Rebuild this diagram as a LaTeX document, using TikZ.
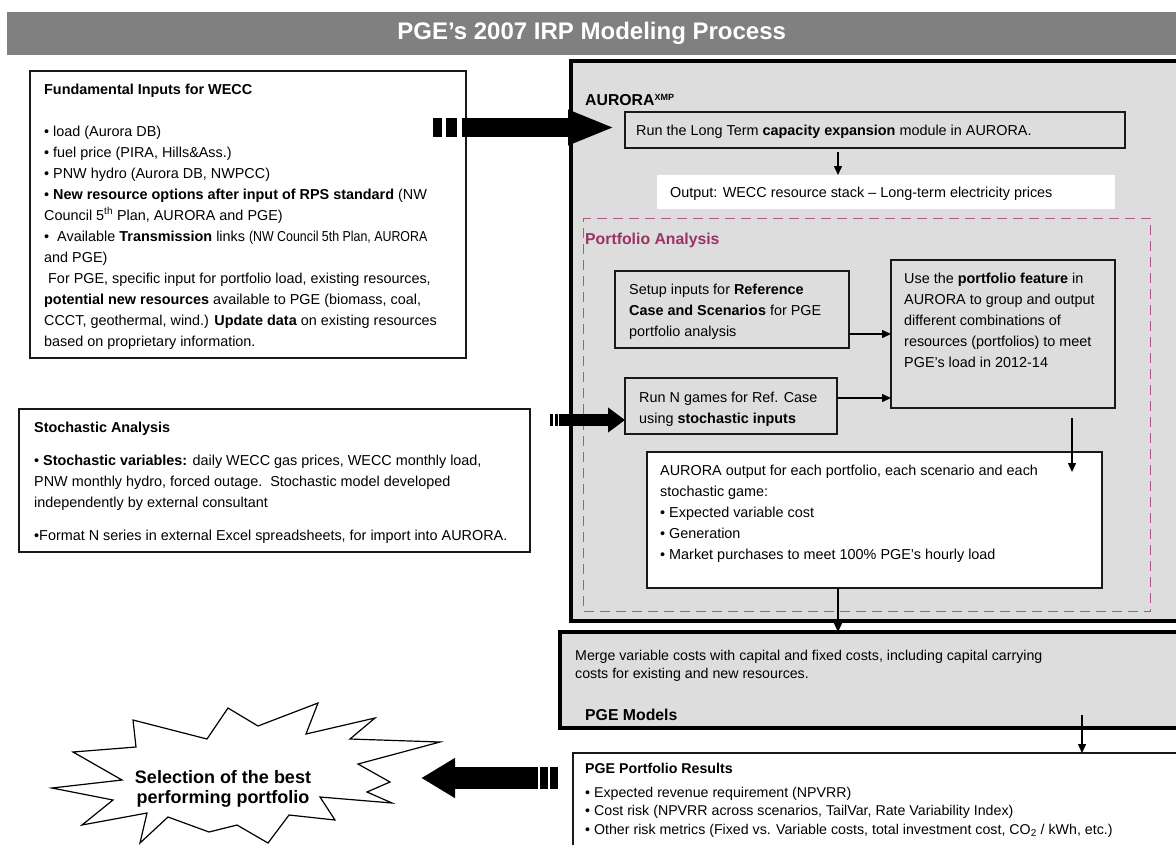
\documentclass[tikz,border=0pt]{standalone}
\usepackage{fontspec}
\setmainfont{Liberation Sans}
\usetikzlibrary{arrows.meta,calc}
\definecolor{plum}{RGB}{153,51,102}
\definecolor{dashc}{RGB}{176,86,140}
\definecolor{panel}{RGB}{221,221,221}
\definecolor{titlegray}{RGB}{128,128,128}
\newcommand\fsbody{\fontsize{14.4}{21}\selectfont}
\newcommand\fsres{\fontsize{14.2}{18.7}\selectfont}
\newcommand\fshead{\fontsize{15.8}{19}\selectfont\bfseries}
\begin{document}
\begin{tikzpicture}[x=1pt,y=-1pt,
  box/.style={draw=black!90, line width=1.4pt, anchor=north west, inner sep=0pt, outer sep=0pt},
  gbox/.style={box, fill=panel},
  wbox/.style={box, fill=white},
  heavybox/.style={draw=black, fill=panel, anchor=north west, inner sep=0pt, outer sep=0pt},
  txt/.style={anchor=north west, inner sep=0pt, align=left, font=\fsbody},
  line/.style={anchor=base west, inner sep=0pt, font=\fsbody},
  arr/.style={line width=1.4pt, -{Triangle[length=9pt,width=8pt]}},
  fat/.style={draw=black}]
\clip (0,0) rectangle (1176,844);
\fill[white] (0,0) rectangle (1176,844);
% title bar
\node[anchor=north west, fill=titlegray, minimum width=1169pt, minimum height=43pt, inner sep=0pt] (bar) at (7,12) {};
\node[text=white, font=\fontsize{24}{28}\selectfont\bfseries] (title) at (bar.center) {PGE’s 2007 IRP Modeling Process};

% left boxes
\node[wbox, minimum width=436pt, minimum height=287pt] (fund) at (30,71) {};
\node[wbox, minimum width=511pt, minimum height=143pt] (stoch) at (19,409) {};

% AURORA block
\node[heavybox, line width=4pt, minimum width=619pt, minimum height=560pt] (aurora) at (571,61) {};
\node[gbox, minimum width=500pt, minimum height=36pt] (run) at (625,112) {};
\node[anchor=north west, fill=white, inner sep=0pt, minimum width=458pt, minimum height=34pt] (out) at (657,175) {};
\node[draw=dashc, line width=1.4pt, dash pattern=on 10pt off 6pt, anchor=north west, inner sep=0pt, minimum width=567pt, minimum height=393pt] (port) at (583,218) {};
\node[gbox, minimum width=234pt, minimum height=77pt] (setup) at (615,271) {};
\node[gbox, minimum width=224pt, minimum height=148pt] (use) at (891,260) {};
\node[gbox, minimum width=212pt, minimum height=56pt] (runN) at (625,378) {};
\node[wbox, minimum width=455pt, minimum height=136pt] (aout) at (647,452) {};

% PGE models and results
\node[heavybox, line width=3.5pt, minimum width=630pt, minimum height=96pt] (models) at (560,632) {};
\node[wbox, minimum width=620pt, minimum height=100pt] (results) at (573,753) {};

% starburst
\draw[line width=1.2pt, fill=white] (133,720) -- (207,739) -- (228,708) -- (258,726) -- (318,703) -- (306,734) -- (375,718) -- (350,739) -- (440,742) -- (358,764) -- (390,782) -- (367,792) -- (392,803) -- (320,797) -- (335,820) -- (289,815) -- (268,843) -- (237,825) -- (209,832) -- (168,817) -- (140,843) -- (147,813) -- (82,825) -- (113,800) -- (52,788) -- (122,780) -- (73,752) -- (136,747) -- cycle;
\node[align=center, inner sep=0pt, font=\fontsize{18}{20}\selectfont\bfseries] (star) at (223,789) {Selection of the best\\performing portfolio};

% thin connectors
\draw[arr] ([xshift=-37pt,yshift=-4pt]run.south) -- ([xshift=-37pt]run.south |- out.north);
\draw[arr] ([yshift=-24.5pt]setup.east) -- ([yshift=-24.5pt]setup.east -| use.west);
\draw[arr] ([yshift=8pt]runN.east) -- ([yshift=8pt]runN.east -| use.west);
\draw[arr] ([xshift=69pt,yshift=-10pt]use.south) -- ([xshift=69pt,yshift=-64pt]use.south);
\draw[arr] ([xshift=-36.5pt]aout.south) -- ([xshift=-36.5pt]aout.south |- models.north);
\draw[arr] ([xshift=207pt,yshift=13pt]models.south) -- ([xshift=207pt]models.south |- results.north);

% fat arrow: fundamental inputs -> AURORA
\coordinate (fa1) at ($(fund.north east)+(-4,56.5)$);
\coordinate (fa2) at ($(run.west)+(-10,-2.5)$);
\draw[line width=19pt] ($(fa1)+(-29,0)$) -- ($(fa1)+(-20,0)$);
\draw[line width=19pt] ($(fa1)+(-16,0)$) -- ($(fa1)+(-5,0)$);
\draw[line width=19pt, -{Triangle[length=47pt,width=32pt]}] (fa1) -- (fa2);

% fat arrow: stochastic -> run N games
\coordinate (fb1) at ($(stoch.north east)+(32,11)$);
\coordinate (fb2) at ($(runN.west)+(0,14)$);
\draw[line width=12pt] ($(fb1)+(-12,0)$) -- ($(fb1)+(-9,0)$);
\draw[line width=12pt] ($(fb1)+(-7.5,0)$) -- ($(fb1)+(-4.5,0)$);
\draw[line width=12pt] ($(fb1)+(-3.5,0)$) -- (fb1);
\draw[line width=12pt, -{Triangle[length=17pt,width=24pt]}] (fb1) -- (fb2);

% fat arrow: results -> selection
\coordinate (fc1) at ($(results.north west)+(-35,25)$);
\coordinate (fc2) at (star.east |- fc1);
\draw[line width=22pt] ($(fc1)+(2,0)$) -- ($(fc1)+(10,0)$);
\draw[line width=22pt] ($(fc1)+(12,0)$) -- ($(fc1)+(20,0)$);
\draw[line width=22pt, -{Triangle[length=34pt,width=38pt]}] (fc1) -- ($(fc2)+(110,0)$);

% texts
\node[line, font=\fsbody\bfseries] (fundtitle) at (44,94) {Fundamental Inputs for WECC};
\node[txt] (fundbody) at (44,121.3) {\strut\textbullet{} load (Aurora DB)\\
\textbullet{} fuel price (PIRA, Hills\&Ass.)\\
\textbullet{} PNW hydro (Aurora DB, NWPCC)\\
\textbullet{} \textbf{New resource options after input of RPS standard} (NW\\
Council 5\textsuperscript{th} Plan, AURORA and PGE)\\
\textbullet{}\ \ Available \textbf{Transmission} links \scalebox{0.86}[1]{(NW Council 5th Plan, AURORA}\\
and PGE)\\
\ For PGE, specific input for portfolio load, existing resources,\\
\textbf{potential new resources} available to PGE (biomass, coal,\\
CCCT, geothermal, wind.) \textbf{Update data} on existing resources\\
based on proprietary information.};

\node[line, font=\fsbody\bfseries] (stochtitle) at (34,432) {Stochastic Analysis};
\node[txt] (stochbody) at (34,450.3) {\strut\textbullet{} \textbf{Stochastic variables:} daily WECC gas prices, WECC monthly load,\\
PNW monthly hydro, forced outage.\ \ Stochastic model developed\\
independently by external consultant};
\node[line] (stochfmt) at (34,540) {\textbullet Format N series in external Excel spreadsheets, for import into AURORA.};

\node[line, font=\fshead] (auroralbl) at (585,105.5) {AURORA\textsuperscript{\fontsize{9}{9}\selectfont XMP}};
\node[line] (runtxt) at (636,135) {Run the Long Term \textbf{capacity expansion} module in AURORA.};
\node[line] (outtxt) at (670,197) {Output: WECC resource stack – Long-term electricity prices};
\node[line, font=\fshead, text=plum] (portlbl) at (585,244) {Portfolio Analysis};
\node[txt] (setuptxt) at (629,279.3) {\strut Setup inputs for \textbf{Reference}\\\textbf{Case and Scenarios} for PGE\\portfolio analysis};
\node[txt] (usetxt) at (904,268.3) {\strut Use the \textbf{portfolio feature} in\\AURORA to group and output\\different combinations of\\resources (portfolios) to meet\\PGE’s load in 2012-14};
\node[txt] (runNtxt) at (639,387.3) {\strut Run N games for Ref. Case\\using \textbf{stochastic inputs}};
\node[txt] (aouttxt) at (660,460.3) {\strut AURORA output for each portfolio, each scenario and each\\stochastic game:\\\textbullet{} Expected variable cost\\\textbullet{} Generation\\\textbullet{} Market purchases to meet 100\% PGE’s hourly load};

\node[txt, font=\fsres] (mergetxt) at (575,646.9) {\strut Merge variable costs with capital and fixed costs, including capital carrying\\costs for existing and new resources.};
\node[line, font=\fshead] (modelslbl) at (585,720) {PGE Models};
\node[line, font=\fsres\bfseries] (restitle) at (585,773) {PGE Portfolio Results};
\node[txt, font=\fsres] (resbody) at (585,783.9) {\strut\textbullet{} Expected revenue requirement (NPVRR)\\
\textbullet{} Cost risk (NPVRR across scenarios, TailVar, Rate Variability Index)\\
\textbullet{} Other risk metrics (Fixed vs. Variable costs, total investment cost, CO\textsubscript{2} / kWh, etc.)};
\end{tikzpicture}
\end{document}
